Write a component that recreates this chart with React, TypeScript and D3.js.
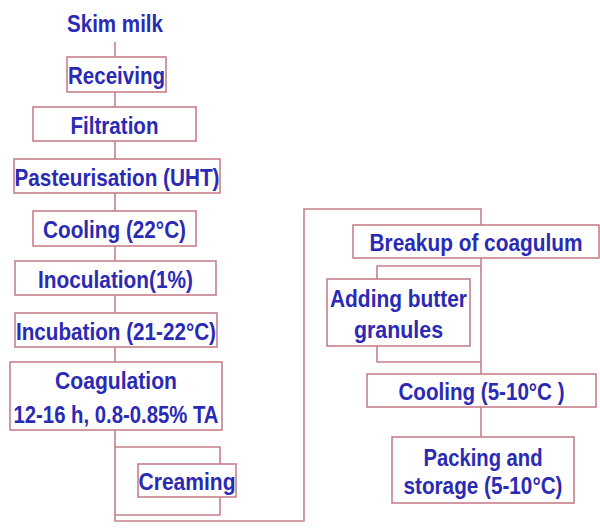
import React from 'react'
import * as d3 from 'd3'

// process steps, top to bottom
const stepLabels: string[][] = [
  ['Receiving'],
  ['Filtration'],
  ['Pasteurisation (UHT)'],
  ['Cooling (22°C)'],
  ['Inoculation(1%)'],
  ['Incubation (21-22°C)'],
  ['Coagulation', '12-16 h, 0.8-0.85% TA'],
  ['Creaming'],
  ['Breakup of coagulum'],
  ['Adding butter', 'granules'],
  ['Cooling (5-10°C )'],
  ['Packing and', 'storage (5-10°C)'],
]
const startLabel = 'Skim milk'

// layout: box [x0, y0, x1, y1], line spacing and text widths per line
const boxes = [
  [67, 57, 166, 92],
  [33, 107, 196, 141],
  [14, 159, 220, 193],
  [33, 211, 196, 246],
  [15, 261, 216, 295],
  [15, 313, 217, 347],
  [10, 362, 222, 430],
  [138, 464, 236, 497],
  [353, 225, 599, 258],
  [327, 279, 470, 346],
  [367, 374, 596, 407],
  [392, 437, 574, 503],
]
const gaps = [0, 0, 0, 0, 0, 0, 34, 0, 0, 31, 0, 28]
const textW = [
  [97], [88], [205], [143], [155], [200], [122, 205], [97], [213], [137, 89], [166], [119, 159],
]

const BLUE = '#2a2ab4'
const RED = '#c8808c'
const FONT = '"Liberation Sans Narrow", "Arial Narrow", "Liberation Sans", Arial, sans-serif'
const SIZE = 20
const STRETCH = 1.2

function Label({ x, y, w, text }: { x: number; y: number; w: number; text: string }) {
  return (
    <g transform={`translate(${x},${y + 1.5}) scale(1,${STRETCH})`}>
      <text x={0} y={0} dominantBaseline="central" textAnchor="middle" fill={BLUE}
        fontFamily={FONT} fontWeight="bold" fontSize={SIZE} textLength={w} lengthAdjust="spacingAndGlyphs">
        {text}
      </text>
    </g>
  )
}

const connectors: [number, number][][] = [
  [[115, 42], [115, 57]],
  [[115, 92], [115, 107]],
  [[115, 141], [115, 159]],
  [[115, 193], [115, 211]],
  [[115, 246], [115, 261]],
  [[115, 295], [115, 313]],
  [[115, 347], [115, 362]],
  [[115, 430], [115, 521], [304, 521], [304, 209], [481, 209], [481, 225]],
  [[115, 447], [220, 447], [220, 464]],
  [[220, 497], [220, 515], [115, 515]],
  [[481, 258], [481, 374]],
  [[481, 266], [377, 266], [377, 279]],
  [[377, 346], [377, 362], [481, 362]],
  [[481, 407], [481, 437]],
]

export default function App() {
  const line = d3.line()
  return (
    <svg width={600} height={529} style={{ position: 'absolute', left: 0, top: 0, background: '#fff' }}>
      <g fill="none" stroke={RED} strokeWidth={1.6}>
        {connectors.map((c, i) => <path key={i} d={line(c) ?? ''} />)}
      </g>
      <Label x={115} y={22} w={96} text={startLabel} />
      {stepLabels.map((lines, i) => {
        const [x0, y0, x1, y1] = boxes[i]
        const cx = (x0 + x1) / 2
        const cy = (y0 + y1) / 2
        return (
          <g key={i}>
            <rect x={x0} y={y0} width={x1 - x0} height={y1 - y0} fill="#fff" stroke={RED} strokeWidth={1.6} />
            {lines.map((t, j) => (
              <Label key={j} x={cx} y={cy + (j - (lines.length - 1) / 2) * gaps[i]} w={textW[i][j]} text={t} />
            ))}
          </g>
        )
      })}
    </svg>
  )
}
